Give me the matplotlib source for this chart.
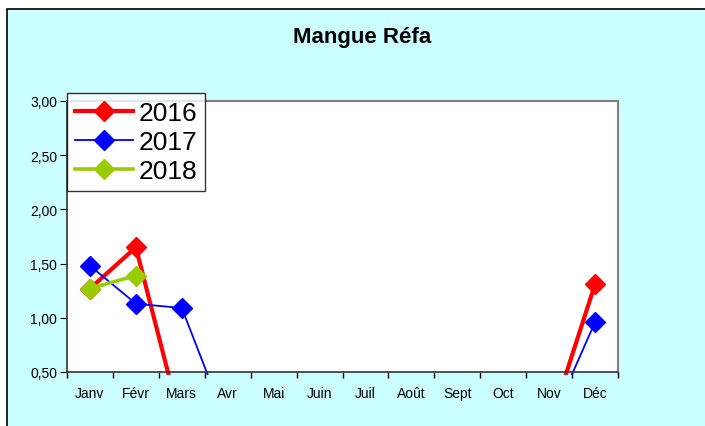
import numpy as np
import matplotlib
matplotlib.use('Agg')
import matplotlib.pyplot as plt
from matplotlib.patches import Rectangle

plt.rcParams['font.family'] = ['Liberation Sans', 'DejaVu Sans']

mois = ['Janv', 'Févr', 'Mars', 'Avr', 'Mai', 'Juin', 'Juil', 'Août', 'Sept', 'Oct', 'Nov', 'Déc']
# None = no point; 0 = point off the bottom of the scale
v2016 = [1.27, 1.65, 0, 0, 0, 0, 0, 0, 0, 0, 0, 1.31]
v2017 = [1.48, 1.13, 1.09, 0, 0, 0, 0, 0, 0, 0, 0, 0.96]
v2018 = [1.27, 1.39, None, None, None, None, None, None, None, None, None, None]
yticks = [0.5, 1.0, 1.5, 2.0, 2.5, 3.0]

fig = plt.figure(figsize=(7.05, 4.27), dpi=100)
fig.patch.set_facecolor('white')
# cyan chart area with black frame (top/left visible)
fig.patches.append(Rectangle((7/705, -0.05), 1.1, (427-10)/427 + 0.05, transform=fig.transFigure,
                             facecolor='#CCFFFF', edgecolor='black', lw=1.2, zorder=-10))

ax = fig.add_axes([67/705, 54/427, 551/705, 271/427])
ax.set_facecolor('white')
x = np.arange(len(mois))

def arr(v):
    return np.array([np.nan if a is None else a for a in v], dtype=float)

clip = Rectangle((0, -0.012), 1, 1.012, transform=ax.transAxes)
series = [('2016', v2016, '#FF0000', 3.0), ('2017', v2017, '#0000FF', 1.3), ('2018', v2018, '#99CC00', 2.6)]
for lab, vals, col, lw in series:
    ln, = ax.plot(x, arr(vals), color=col, lw=lw, marker='D', markersize=10.5, label=lab)
    ln.set_clip_path(clip)

ax.set_xlim(-0.5, 11.5)
ax.set_ylim(0.5, 3.0)
ax.set_yticks(yticks)
ax.set_yticklabels(['{:.2f}'.format(t).replace('.', ',') for t in yticks])
ax.set_xticks(x)
ax.set_xticklabels(mois)
ax.set_xticks(np.arange(-0.5, 12, 1), minor=True)
ax.tick_params(axis='x', which='major', length=0, pad=10, labelsize=10)
ax.tick_params(axis='x', which='minor', length=4, direction='out', width=1)
ax.tick_params(axis='y', length=5, direction='out', pad=2, labelsize=10)
for s in ['top', 'right']:
    ax.spines[s].set_color('#808080')
    ax.spines[s].set_linewidth(1.5)
for s in ['left', 'bottom']:
    ax.spines[s].set_color('#333333')
    ax.spines[s].set_linewidth(1.2)

fig.text(0.5 * (292 + 433) / 705, (427 - 37.5) / 427, 'Mangue Réfa', ha='center', va='center',
         fontsize=16, fontweight='bold')

leg = ax.legend(loc='upper left', bbox_to_anchor=(67/705, (427-94)/427), bbox_transform=fig.transFigure,
                borderaxespad=0, fontsize=19, handlelength=2.2, labelspacing=0.2,
                borderpad=0.3, handletextpad=0.2, frameon=True, fancybox=False)
leg.get_frame().set_edgecolor('black')
leg.get_frame().set_linewidth(1)

fig.savefig('out.png', dpi=100)
